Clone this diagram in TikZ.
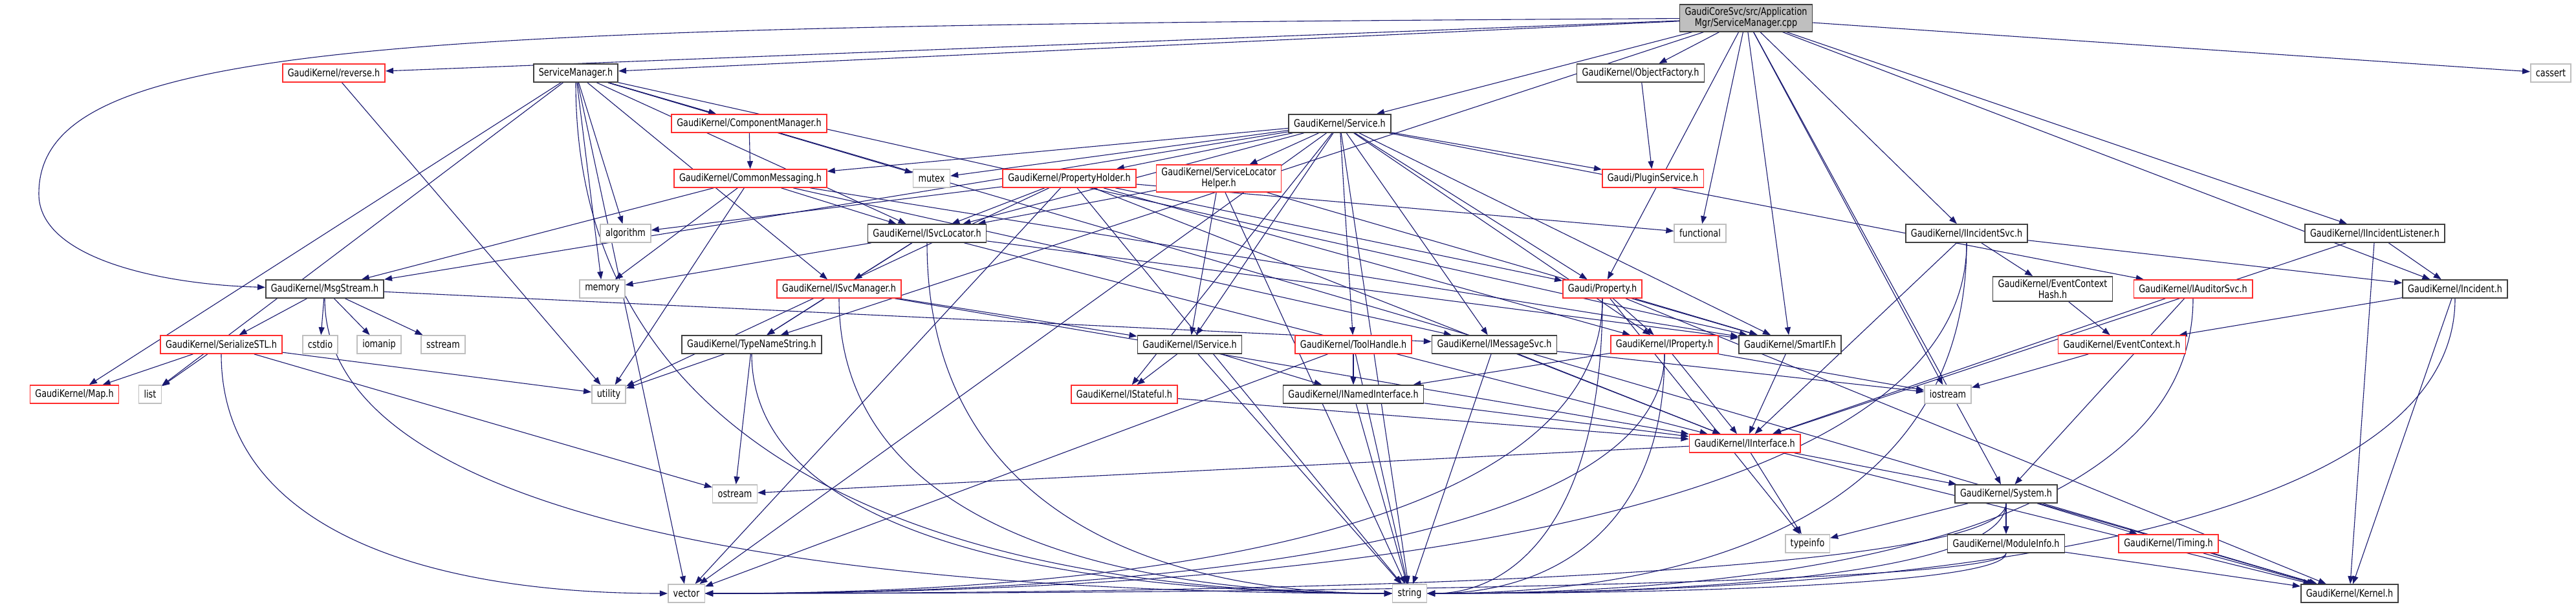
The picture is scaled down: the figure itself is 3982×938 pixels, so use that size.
\documentclass[tikz,border=0pt]{standalone}
\usepackage{fontspec}
\setmainfont{DejaVu Sans}[FakeStretch=0.8]
\usetikzlibrary{arrows.meta,calc}
\definecolor{edgeblue}{RGB}{25,25,112}
\definecolor{sysgray}{RGB}{191,191,191}
\definecolor{boxdark}{RGB}{64,64,64}
\definecolor{truncred}{RGB}{255,45,45}
\pgfdeclarelayer{backlayer}
\pgfdeclarelayer{edgelayer}
\pgfsetlayers{backlayer,edgelayer,main}

\begin{document}
\begin{tikzpicture}[x=1pt,y=-1pt,
  hbox/.style={draw=boxdark,line width=1.6pt,fill=white,minimum height=28pt,
    inner xsep=8pt,inner ysep=4.5pt,align=center,font=\fontsize{16}{17}\selectfont},
  redbox/.style={hbox,draw=truncred},
  sysbox/.style={hbox,draw=sysgray},
  rootbox/.style={hbox,fill=sysgray},
  dep/.style={draw=edgeblue,line width=1.1pt,-{Triangle[length=12pt,width=9pt]}}]
\useasboundingbox (0,0) rectangle (3982,938);
\begin{pgfonlayer}{backlayer}
\fill[white] (0,0) rectangle (3982,938);
\end{pgfonlayer}

% top rows
\node[rootbox] (root) at (2699,28) {GaudiCoreSvc/src/Application\\Mgr/ServiceManager.cpp};
\node[redbox] (rev) at (516,113) {GaudiKernel/reverse.h};
\node[hbox] (smh) at (890,113) {ServiceManager.h};
\node[hbox] (objf) at (2536,113) {GaudiKernel/ObjectFactory.h};
\node[sysbox] (cassert) at (3943,113) {cassert};
\node[redbox] (compmgr) at (1158,191) {GaudiKernel/ComponentManager.h};
\node[hbox] (svc) at (2071,191) {GaudiKernel/Service.h};
\node[redbox] (commsg) at (1160,276) {GaudiKernel/CommonMessaging.h};
\node[sysbox] (mutex) at (1440,276) {mutex};
\node[redbox] (propholder) at (1653,276) {GaudiKernel/PropertyHolder.h};
\node[redbox] (svcloch) at (1884,276) {GaudiKernel/ServiceLocator\\Helper.h};
\node[redbox] (plugin) at (2555,276) {Gaudi/PluginService.h};
\node[sysbox] (algorithm) at (967,361) {algorithm};
\node[hbox] (isvcloc) at (1433,361) {GaudiKernel/ISvcLocator.h};
\node[sysbox] (functional) at (2628,361) {functional};
\node[hbox] (iincsvc) at (3040,361) {GaudiKernel/IIncidentSvc.h};
\node[hbox] (iinclist) at (3671,361) {GaudiKernel/IIncidentListener.h};
% middle rows
\node[hbox] (msgstream) at (502,447) {GaudiKernel/MsgStream.h};
\node[sysbox] (memory) at (931,447) {memory};
\node[redbox] (isvcmgr) at (1297,447) {GaudiKernel/ISvcManager.h};
\node[redbox] (property) at (2477,447) {Gaudi/Property.h};
\node[hbox] (evctxhash) at (3173,447) {GaudiKernel/EventContext\\Hash.h};
\node[redbox] (iauditor) at (3390,447) {GaudiKernel/IAuditorSvc.h};
\node[hbox] (incident) at (3795,447) {GaudiKernel/Incident.h};
\node[redbox] (serstl) at (342,533) {GaudiKernel/SerializeSTL.h};
\node[sysbox] (cstdio) at (495,533) {cstdio};
\node[sysbox] (iomanip) at (586,533) {iomanip};
\node[sysbox] (sstream) at (685,533) {sstream};
\node[hbox] (typename) at (1162,533) {GaudiKernel/TypeNameString.h};
\node[hbox] (iservice) at (1839,533) {GaudiKernel/IService.h};
\node[redbox] (toolhandle) at (2092,533) {GaudiKernel/ToolHandle.h};
\node[hbox] (imsgsvc) at (2310,533) {GaudiKernel/IMessageSvc.h};
\node[redbox] (iproperty) at (2573,533) {GaudiKernel/IProperty.h};
\node[hbox] (smartif) at (2767,533) {GaudiKernel/SmartIF.h};
\node[redbox] (evctx) at (3280,533) {GaudiKernel/EventContext.h};
\node[redbox] (map) at (115,610) {GaudiKernel/Map.h};
\node[sysbox] (list) at (232,610) {list};
\node[sysbox] (utility) at (941,610) {utility};
\node[redbox] (istateful) at (1738,610) {GaudiKernel/IStateful.h};
\node[hbox] (inamed) at (2092,610) {GaudiKernel/INamedInterface.h};
\node[sysbox] (iostream) at (3011,610) {iostream};
% bottom rows
\node[redbox] (iinterface) at (2697,686) {GaudiKernel/IInterface.h};
\node[sysbox] (ostream) at (1136,764) {ostream};
\node[hbox] (system) at (3101,764) {GaudiKernel/System.h};
\node[sysbox] (typeinfo) at (2794,841) {typeinfo};
\node[hbox] (modinfo) at (3101,841) {GaudiKernel/ModuleInfo.h};
\node[redbox] (timing) at (3352,841) {GaudiKernel/Timing.h};
\node[sysbox] (vector) at (1061,918) {vector};
\node[sysbox] (string) at (2179,918) {string};
\node[hbox] (kernel) at (3632,918) {GaudiKernel/Kernel.h};

\begin{pgfonlayer}{edgelayer}
\foreach \a/\b in {root/rev,root/smh,root/objf,root/svc,root/cassert,root/typename,
  root/functional,root/property,root/smartif,root/iincsvc,root/iinclist,root/incident,
  root/system,root/iostream,
  smh/compmgr,smh/isvcloc,smh/isvcmgr,smh/map,smh/list,smh/mutex,smh/memory,
  smh/algorithm,smh/smartif,smh/kernel,smh/vector,
  objf/plugin,compmgr/commsg,
  svc/commsg,svc/mutex,svc/propholder,svc/svcloch,svc/plugin,svc/isvcloc,svc/iservice,
  svc/istateful,svc/property,svc/iproperty,svc/smartif,svc/toolhandle,svc/iauditor,
  svc/msgstream,svc/imsgsvc,svc/vector,svc/string,
  commsg/msgstream,commsg/isvcloc,commsg/imsgsvc,commsg/smartif,commsg/memory,commsg/utility,
  propholder/algorithm,propholder/functional,propholder/isvcloc,propholder/property,
  propholder/iproperty,propholder/iinterface,propholder/utility,propholder/vector,propholder/string,
  svcloch/isvcloc,svcloch/iservice,svcloch/smartif,svcloch/string,
  isvcloc/isvcmgr,isvcloc/typename,isvcloc/memory,isvcloc/iinterface,isvcloc/smartif,
  isvcmgr/typename,isvcmgr/iservice,isvcmgr/iinterface,
  msgstream/serstl,msgstream/cstdio,msgstream/iomanip,msgstream/sstream,msgstream/imsgsvc,
  serstl/map,serstl/list,serstl/ostream,serstl/utility,
  typename/utility,typename/ostream,
  iservice/istateful,iservice/inamed,iservice/string,istateful/iinterface,
  toolhandle/inamed,toolhandle/vector,toolhandle/string,
  imsgsvc/iinterface,imsgsvc/string,imsgsvc/iostream,
  property/iproperty,property/smartif,property/typeinfo,property/kernel,
  iproperty/inamed,iproperty/iinterface,iproperty/iostream,
  smartif/iinterface,inamed/iinterface,inamed/string,
  iinterface/ostream,iinterface/typeinfo,iinterface/system,iinterface/kernel,
  system/typeinfo,system/modinfo,system/timing,system/kernel,
  modinfo/kernel,timing/kernel,
  iincsvc/evctxhash,iincsvc/incident,iincsvc/iinterface,
  evctxhash/evctx,evctx/iostream,
  iauditor/iinterface,iauditor/system,
  incident/evctx,incident/kernel,
  iinclist/incident,iinclist/iinterface,iinclist/kernel,
  rev/utility}
  \draw[dep] (\a) -- (\b);
% into string and vector low down, from the sides
\foreach \a/\t in {smh/string,msgstream/string,typename/string,isvcloc/string,isvcmgr/string,
  property/string,iproperty/string,system/string,modinfo/string,iincsvc/string,
  iauditor/string,incident/string,serstl/vector,property/vector,iproperty/vector,
  system/vector,modinfo/vector,iincsvc/vector}
  \draw[dep] (\a) .. controls ($(\a)!0.75!(\a |- \t)$) and ($(\t)!0.55!(\a |- \t)$) .. (\t);
% the long one round the left side
\draw[dep] (root) .. controls (600,40) and (60,60) .. (60,300) .. controls (60,400) and (250,440) .. (msgstream);
\end{pgfonlayer}
\end{tikzpicture}
\end{document}
